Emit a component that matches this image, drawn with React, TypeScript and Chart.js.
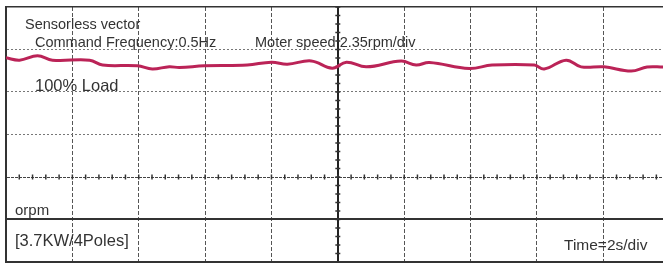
import React, { useEffect, useRef } from "react";
import { Chart, registerables } from "chart.js";

Chart.register(...registerables);

// Time (s), 2 s/div
const times = [0, 0.41, 0.95, 1.4, 2.52, 2.91, 3.96, 4.41, 4.92, 5.23, 5.98, 7.27, 8.0, 8.48, 9.2, 9.83, 10.26, 10.86, 11.91, 12.36, 12.76, 13.96, 14.65, 15.92, 16.22, 16.88, 17.33, 18.02, 18.84, 19.32, 19.8];
// Motor speed (rpm), 2.35 rpm/div
const speeds = [8.94, 8.81, 9.05, 8.81, 8.81, 8.54, 8.5, 8.32, 8.45, 8.4, 8.5, 8.54, 8.7, 8.59, 8.77, 8.37, 8.7, 8.44, 8.76, 8.54, 8.68, 8.35, 8.54, 8.54, 8.32, 8.81, 8.44, 8.44, 8.21, 8.43, 8.43];

const timeTicks = [0, 2, 4, 6, 8, 10, 12, 14, 16, 18];
const speedDiv = 2.35;
const speedTicks = [-1, 0, 1, 2, 3, 4, 5].map((k) => k * speedDiv);

const labels = [
  { text: "Sensorless vector", x: 25, y: 29, size: 14.5 },
  { text: "Command Frequency:0.5Hz", x: 35, y: 47, size: 14.5 },
  { text: "Moter speed 2.35rpm/div", x: 255, y: 47, size: 14.5 },
  { text: "100% Load", x: 35, y: 91, size: 16.5 },
  { text: "orpm", x: 15, y: 215, size: 15 },
  { text: "[3.7KW/4Poles]", x: 15, y: 246, size: 16.5 },
  { text: "Time=2s/div", x: 564, y: 250, size: 15.5 },
];

const minorTicks = {
  id: "minorTicks",
  beforeDatasetsDraw(chart: any) {
    const { ctx } = chart;
    const xs = chart.scales.x;
    const ys = chart.scales.y;
    const cx = xs.getPixelForValue(10);
    const cy = ys.getPixelForValue(speedDiv);
    ctx.save();
    ctx.strokeStyle = "#333";
    ctx.lineWidth = 1.5;
    ctx.beginPath();
    for (let t = 0; t <= 20; t += 0.4) {
      const px = xs.getPixelForValue(t);
      ctx.moveTo(px, cy - 2.5);
      ctx.lineTo(px, cy + 2.5);
    }
    for (let v = -speedDiv; v <= speedDiv * 5 + 0.01; v += speedDiv / 5) {
      const py = ys.getPixelForValue(v);
      ctx.moveTo(cx - 2.5, py);
      ctx.lineTo(cx + 2.5, py);
    }
    ctx.stroke();
    ctx.restore();
  },
};

const textPlugin = {
  id: "texts",
  afterDraw(chart: any) {
    const { ctx } = chart;
    ctx.save();
    ctx.fillStyle = "#333";
    ctx.textBaseline = "alphabetic";
    ctx.textAlign = "left";
    for (const l of labels) {
      ctx.font = `${l.size}px "Liberation Sans", Arial, sans-serif`;
      ctx.fillText(l.text, l.x, l.y);
    }
    ctx.restore();
  },
};

export default function App() {
  const ref = useRef<HTMLCanvasElement>(null);
  useEffect(() => {
    const chart = new Chart(ref.current!, {
      type: "line",
      data: {
        datasets: [
          {
            data: times.map((t, i) => ({ x: t, y: speeds[i] })),
            borderColor: "#bb2357",
            borderWidth: 3,
            pointRadius: 0,
            tension: 0.4,
            fill: false,
          },
        ],
      },
      options: {
        animation: false,
        responsive: true,
        maintainAspectRatio: false,
        layout: { padding: { left: 6, top: 7, right: 0, bottom: 2 } },
        plugins: { legend: { display: false }, tooltip: { enabled: false } },
        scales: {
          x: {
            type: "linear",
            min: 0,
            max: 19.8,
            afterBuildTicks: (s: any) => {
              s.ticks = timeTicks.map((v) => ({ value: v }));
            },
            ticks: { display: false },
            grid: {
              drawTicks: false,
              color: (c: any) => (c.tick && c.tick.value === 10 ? "#222" : c.tick && c.tick.value === 0 ? "#333" : "#555"),
              lineWidth: (c: any) => (c.tick && (c.tick.value === 10 || c.tick.value === 0) ? 2 : 1),
            },
            border: {
              display: true,
              color: "#333",
              width: 2,
              dash: (c: any) => (c.tick && c.tick.value !== 10 && c.tick.value !== 0 ? [4, 2] : []),
            },
          },
          y: {
            type: "linear",
            min: -speedDiv,
            max: speedDiv * 5,
            afterBuildTicks: (s: any) => {
              s.ticks = speedTicks.map((v) => ({ value: v }));
            },
            ticks: { display: false },
            grid: {
              drawTicks: false,
              color: (c: any) => {
                const i = c.index;
                if (i === 0 || i === 1 || i === 6) return "#333";
                if (i === 2) return "#444";
                return "#777";
              },
              lineWidth: (c: any) => {
                const i = c.index;
                if (i === 0 || i === 1) return 2;
                if (i === 6) return 1.5;
                return 1;
              },
            },
            border: {
              display: true,
              color: "#333",
              width: 2,
              dash: (c: any) => {
                const i = c.index;
                if (i === 0 || i === 1 || i === 6 || i === undefined) return [];
                if (i === 2) return [3, 1];
                return [2, 2];
              },
            },
          },
        },
      },
      plugins: [minorTicks, textPlugin],
    });
    return () => chart.destroy();
  }, []);
  return (
    <div style={{ position: "absolute", left: 0, top: 0, width: 663, height: 264, background: "#fff" }}>
      <canvas ref={ref} />
    </div>
  );
}
